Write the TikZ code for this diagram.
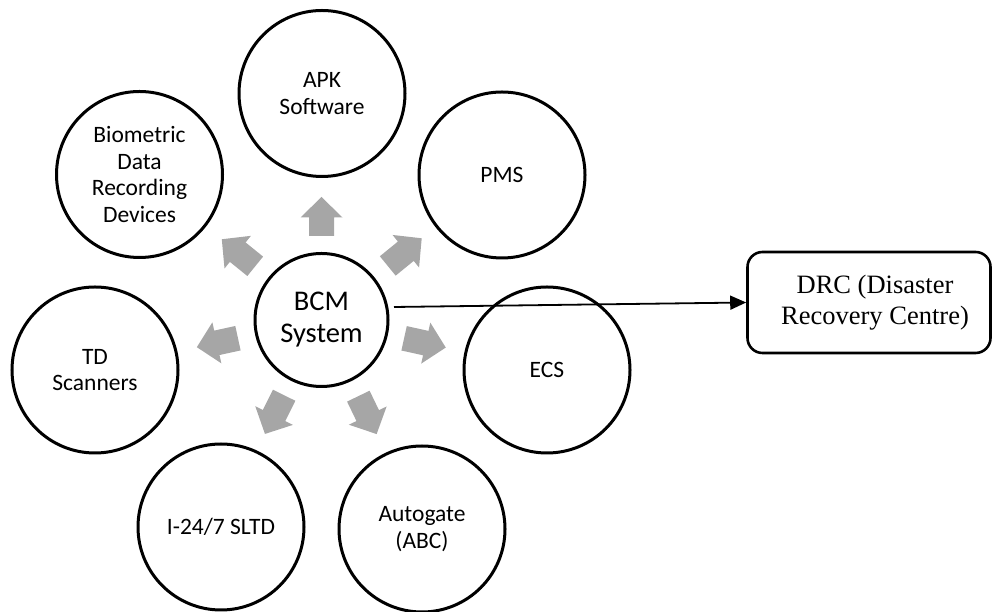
\documentclass[tikz,border=0pt]{standalone}
\usepackage{fontspec}
\setmainfont{Carlito}
\newfontfamily\drcfont{Liberation Serif}
\usetikzlibrary{arrows.meta}
\definecolor{arrgray}{RGB}{166,166,166}
\begin{document}
\begin{tikzpicture}[x=1pt,y=1pt,
  circ/.style={circle,draw=black,line width=3pt,minimum size=166pt,inner sep=0pt,align=center,font=\fontsize{23.5}{26.5}\selectfont},
  hub/.style={circ,minimum size=133pt,font=\fontsize{28.5}{32}\selectfont},
  drcbox/.style={draw=black,line width=2.6pt,rounded corners=15pt,minimum width=243pt,minimum height=101pt,align=center,font=\drcfont\fontsize{26.5}{31}\selectfont,inner sep=0pt},
  link/.style={line width=1.8pt,-{Triangle[length=16pt,width=14pt]}},
  blockarrow/.style={fill=arrgray}]
\useasboundingbox (0,0) rectangle (993,612);
\node[hub] (bcm) at (321.5,292) {BCM\\System};
\node[circ] (apk) at (322,518.5) {APK\\Software};
\node[circ] (bio) at (139.5,437.5) {Biometric\\Data\\Recording\\Devices};
\node[circ] (pms) at (502,437) {PMS};
\node[circ] (td) at (95,242) {TD\\Scanners};
\node[circ] (ecs) at (547,242) {ECS};
\node[circ] (sltd) at (221,85) {I-24/7 SLTD};
\node[circ] (abc) at (422,83) {Autogate\\(ABC)};
\node[drcbox] (drc) at (869,309.5) {\hspace*{12pt}DRC (Disaster\\\hspace*{12pt}Recovery Centre)};
\foreach \ang/\ta/\tb in {90/84/123, 141/85.3/128.3, 39.2/85.5/129.3, -12.5/84.6/127.3, 192.3/85.5/127.6, 243.6/84/127.2, -64.2/84.6/126.7}{
  \fill[blockarrow,shift={(bcm.center)},rotate=\ang] (\ta,-12.5) -- ({\tb-20.5},-12.5) -- ({\tb-20.5},-21) -- (\tb,0) -- ({\tb-20.5},21) -- ({\tb-20.5},12.5) -- (\ta,12.5) -- cycle;
}
\coordinate (s) at (394,305);
\draw[link] (s) -- (drc.west);
\end{tikzpicture}
\end{document}
